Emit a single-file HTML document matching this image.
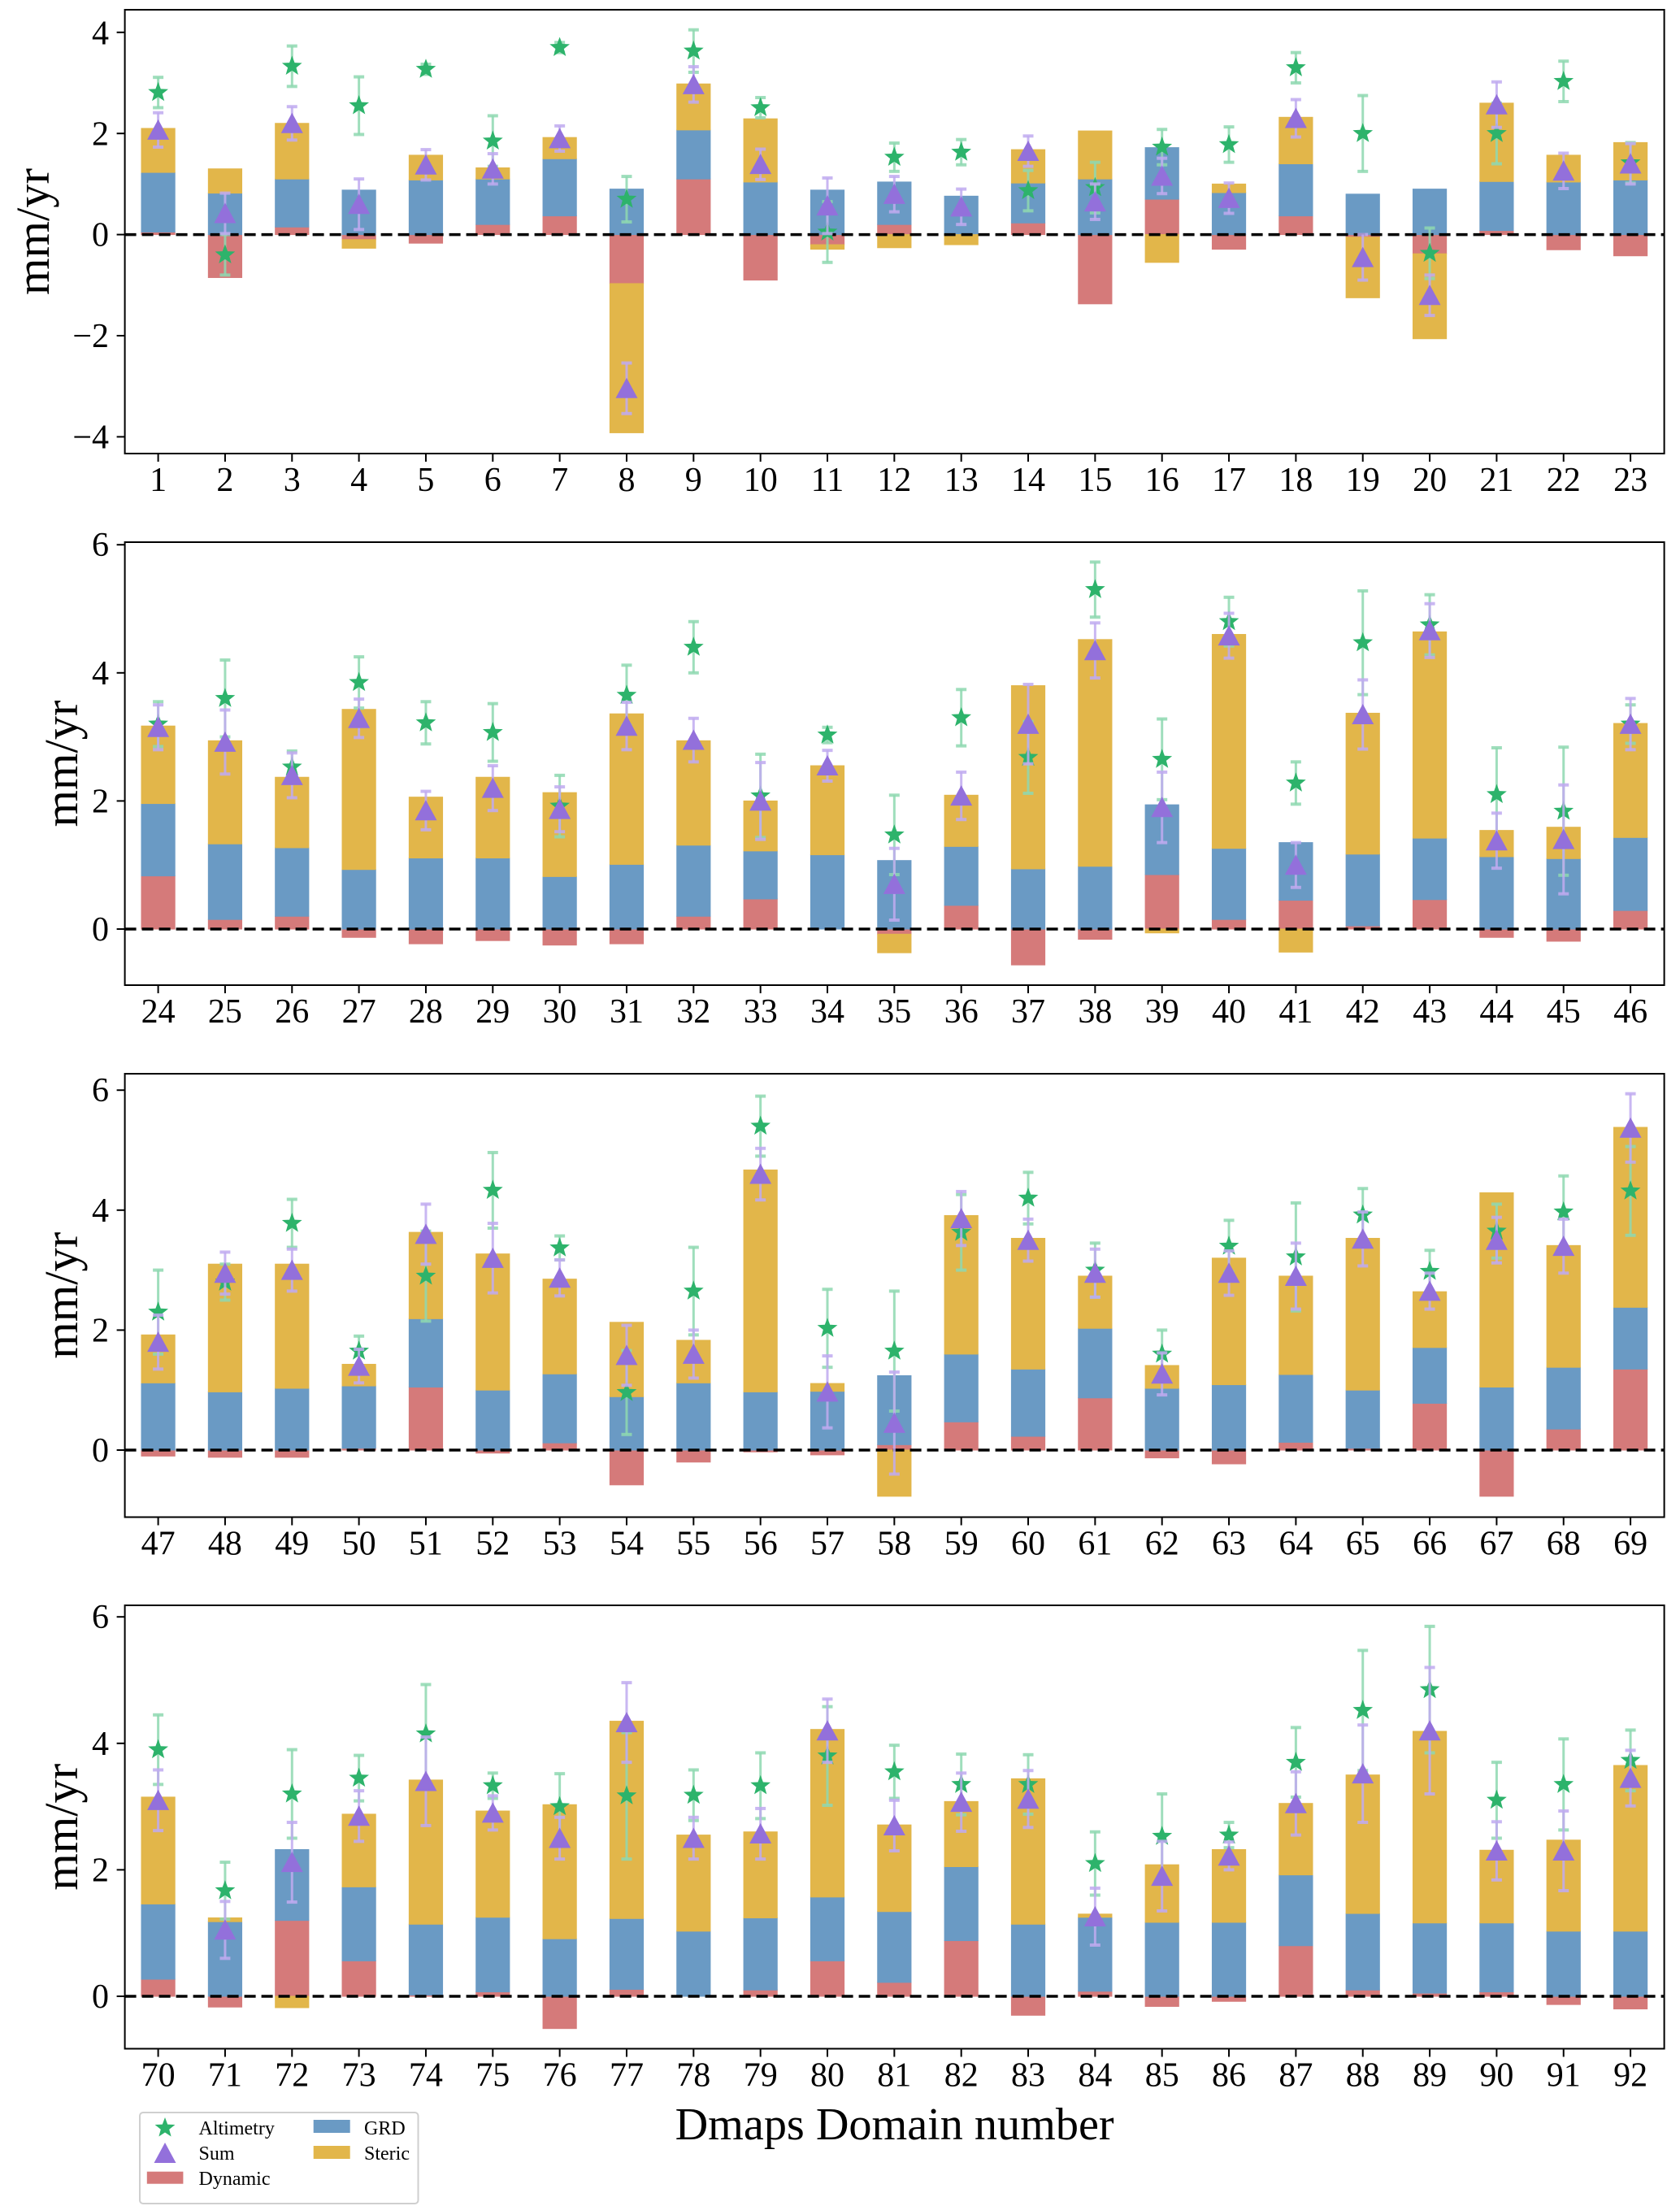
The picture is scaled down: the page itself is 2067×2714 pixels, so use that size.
<!DOCTYPE html>
<html><head><meta charset="utf-8"><style>
html,body{margin:0;padding:0;background:#fff;}
svg{display:block;}
text{font-family:"Liberation Serif","DejaVu Serif",serif;fill:#000;}
.tk{font-size:42px;}
.yl{font-size:58px;}
.lg{font-size:24px;}
</style></head><body>
<svg id="s" xmlns="http://www.w3.org/2000/svg" width="2067" height="2714" viewBox="0 0 2067 2714">
<rect width="2067" height="2714" fill="#fff"/>
<g id="data"></g>
<g id="frames"></g>
<!-- x tick labels -->
<g class="tk" text-anchor="middle">
<text x="194.6" y="604">1</text><text x="276.9" y="604">2</text><text x="359.3" y="604">3</text><text x="441.6" y="604">4</text><text x="523.9" y="604">5</text><text x="606.3" y="604">6</text><text x="688.6" y="604">7</text><text x="771.0" y="604">8</text><text x="853.3" y="604">9</text><text x="935.7" y="604">10</text><text x="1018.0" y="604">11</text><text x="1100.3" y="604">12</text><text x="1182.7" y="604">13</text><text x="1265.0" y="604">14</text><text x="1347.4" y="604">15</text><text x="1429.7" y="604">16</text><text x="1512.0" y="604">17</text><text x="1594.4" y="604">18</text><text x="1676.7" y="604">19</text><text x="1759.1" y="604">20</text><text x="1841.4" y="604">21</text><text x="1923.7" y="604">22</text><text x="2006.1" y="604">23</text>
<text x="194.6" y="1258">24</text><text x="276.9" y="1258">25</text><text x="359.3" y="1258">26</text><text x="441.6" y="1258">27</text><text x="523.9" y="1258">28</text><text x="606.3" y="1258">29</text><text x="688.6" y="1258">30</text><text x="771.0" y="1258">31</text><text x="853.3" y="1258">32</text><text x="935.7" y="1258">33</text><text x="1018.0" y="1258">34</text><text x="1100.3" y="1258">35</text><text x="1182.7" y="1258">36</text><text x="1265.0" y="1258">37</text><text x="1347.4" y="1258">38</text><text x="1429.7" y="1258">39</text><text x="1512.0" y="1258">40</text><text x="1594.4" y="1258">41</text><text x="1676.7" y="1258">42</text><text x="1759.1" y="1258">43</text><text x="1841.4" y="1258">44</text><text x="1923.7" y="1258">45</text><text x="2006.1" y="1258">46</text>
<text x="194.6" y="1912.5">47</text><text x="276.9" y="1912.5">48</text><text x="359.3" y="1912.5">49</text><text x="441.6" y="1912.5">50</text><text x="523.9" y="1912.5">51</text><text x="606.3" y="1912.5">52</text><text x="688.6" y="1912.5">53</text><text x="771.0" y="1912.5">54</text><text x="853.3" y="1912.5">55</text><text x="935.7" y="1912.5">56</text><text x="1018.0" y="1912.5">57</text><text x="1100.3" y="1912.5">58</text><text x="1182.7" y="1912.5">59</text><text x="1265.0" y="1912.5">60</text><text x="1347.4" y="1912.5">61</text><text x="1429.7" y="1912.5">62</text><text x="1512.0" y="1912.5">63</text><text x="1594.4" y="1912.5">64</text><text x="1676.7" y="1912.5">65</text><text x="1759.1" y="1912.5">66</text><text x="1841.4" y="1912.5">67</text><text x="1923.7" y="1912.5">68</text><text x="2006.1" y="1912.5">69</text>
<text x="194.6" y="2566.5">70</text><text x="276.9" y="2566.5">71</text><text x="359.3" y="2566.5">72</text><text x="441.6" y="2566.5">73</text><text x="523.9" y="2566.5">74</text><text x="606.3" y="2566.5">75</text><text x="688.6" y="2566.5">76</text><text x="771.0" y="2566.5">77</text><text x="853.3" y="2566.5">78</text><text x="935.7" y="2566.5">79</text><text x="1018.0" y="2566.5">80</text><text x="1100.3" y="2566.5">81</text><text x="1182.7" y="2566.5">82</text><text x="1265.0" y="2566.5">83</text><text x="1347.4" y="2566.5">84</text><text x="1429.7" y="2566.5">85</text><text x="1512.0" y="2566.5">86</text><text x="1594.4" y="2566.5">87</text><text x="1676.7" y="2566.5">88</text><text x="1759.1" y="2566.5">89</text><text x="1841.4" y="2566.5">90</text><text x="1923.7" y="2566.5">91</text><text x="2006.1" y="2566.5">92</text>
</g>
<!-- y tick labels -->
<g class="tk" text-anchor="end">
<text x="134" y="54.3">4</text><text x="134" y="178.7">2</text><text x="134" y="302.6">0</text><text x="134" y="427">−2</text><text x="134" y="551.4">−4</text>
<text x="134" y="1157">0</text><text x="134" y="999.4">2</text><text x="134" y="841.8">4</text><text x="134" y="684.2">6</text>
<text x="134" y="1798">0</text><text x="134" y="1650.4">2</text><text x="134" y="1502.8">4</text><text x="134" y="1355.2">6</text>
<text x="134" y="2470">0</text><text x="134" y="2314.4">2</text><text x="134" y="2158.8">4</text><text x="134" y="2003.2">6</text>
</g>
<g class="yl" text-anchor="middle">
<text transform="translate(60,285) rotate(-90)" textLength="156" lengthAdjust="spacingAndGlyphs">mm/yr</text>
<text transform="translate(95,939.5) rotate(-90)" textLength="156" lengthAdjust="spacingAndGlyphs">mm/yr</text>
<text transform="translate(95,1593.7) rotate(-90)" textLength="156" lengthAdjust="spacingAndGlyphs">mm/yr</text>
<text transform="translate(95,2247.7) rotate(-90)" textLength="156" lengthAdjust="spacingAndGlyphs">mm/yr</text>
</g>
<text x="1100.6" y="2632" text-anchor="middle" style="font-size:56px" textLength="540" lengthAdjust="spacingAndGlyphs">Dmaps Domain number</text>
<!-- legend -->
<rect x="172" y="2599" width="342.5" height="112" rx="4" fill="#fff" stroke="#cfcfcf" stroke-width="2"/>
<g id="legmk"></g>
<rect x="180.8" y="2671.7" width="44.6" height="15" fill="#d57a7a"/>
<rect x="385.7" y="2608" width="45" height="16" fill="#6a9ac4"/>
<rect x="385.7" y="2640" width="45" height="16" fill="#e2b64a"/>
<g class="lg">
<text x="244.5" y="2626">Altimetry</text>
<text x="244.5" y="2657">Sum</text>
<text x="244.5" y="2688">Dynamic</text>
<text x="448" y="2626">GRD</text>
<text x="448" y="2657">Steric</text>
</g>
</svg>
<script>
(function(){
var NS="http://www.w3.org/2000/svg";
var data=document.getElementById("data"),fr=document.getElementById("frames"),lm=document.getElementById("legmk");
function el(p,t,a){var e=document.createElementNS(NS,t);for(var k in a)e.setAttribute(k,a[k]);p.appendChild(e);return e;}
var RED="#d57a7a",BLUE="#6a9ac4",YEL="#e2b64a",GRN="#2db36b",PUR="#9370db",GERR="#8ed8b0",PERR="#bfaaf0";
function xs(i){return 194.6+i*82.34;}
function star(cx,cy,R){var r=R*0.42,p=[];for(var k=0;k<10;k++){var a=-Math.PI/2+k*Math.PI/5,rr=k%2?r:R;p.push((cx+rr*Math.cos(a)).toFixed(1)+","+(cy+rr*Math.sin(a)).toFixed(1));}return p.join(" ");}
function tri(cx,cy){return cx+","+(cy-13)+" "+(cx-13.5)+","+(cy+12)+" "+(cx+13.5)+","+(cy+12);}
var P=[
{top:12,bot:558,z:288.6,u:62.2,ticks:[4,2,0,-2,-4],
b:[[0.05,1.23,2.10],[-0.85,0.82,1.3],[0.15,1.1,2.2],[-0.1,0.88,-0.27],[-0.17,1.08,1.57],[0.2,1.1,1.32],[0.37,1.5,1.92],[-0.97,0.9,-3.92],[1.1,2.07,2.98],[-0.9,1.04,2.29],[-0.2,0.88,-0.29],[0.2,1.04,-0.26],[0,0.76,-0.2],[0.23,1.02,1.68],[-1.37,1.1,2.05],[0.7,1.72,-0.55],[-0.29,0.83,1.0],[0.37,1.4,2.32],[-0.05,0.8,-1.25],[-0.38,0.9,-2.06],[0.08,1.05,2.6],[-0.3,1.04,1.57],[-0.42,1.08,1.82]],
t:[[2.07,.34],[0.42,.4],[2.2,.33],[0.6,.5],[1.38,.3],[1.3,.3],[1.9,.25],[-3.04,.5],[2.97,.35],[1.39,.3],[0.57,.55],[0.8,.35],[0.55,.35],[1.65,.3],[0.65,.35],[1.16,.35],[0.72,.3],[2.3,.37],[-0.45,.45],[-1.2,.4],[2.57,.45],[1.26,.35],[1.4,.4]],
s:[[2.81,.3],[-0.4,.4],[3.33,.4],[2.55,.57],[3.27,.1],[1.85,.5],[3.7,.1],[0.7,.45],[3.63,.42],[2.51,.2],[0.05,.6],[1.53,.28],[1.63,.25],[0.87,.4],[0.93,.5],[1.73,.35],[1.78,.35],[3.3,.3],[2.0,.75],[-0.37,.5],[2.0,.6],[3.03,.4],[1.42,.4]]},
{top:667,bot:1212,z:1143,u:78.8,ticks:[0,2,4,6],
b:[[0.83,1.96,3.17],[0.15,1.33,2.94],[0.2,1.27,2.37],[-0.13,0.93,3.43],[-0.23,1.11,2.06],[-0.18,1.11,2.37],[-0.25,0.82,2.13],[-0.23,1.01,3.36],[0.2,1.31,2.94],[0.47,1.22,2.0],[0,1.16,2.55],[-0.08,1.07,-0.37],[0.37,1.29,2.09],[-0.56,0.94,3.8],[-0.16,0.98,4.52],[0.85,1.94,-0.06],[0.15,1.26,4.6],[0.45,1.35,-0.36],[0.05,1.17,3.37],[0.46,1.42,4.64],[-0.13,1.13,1.54],[-0.19,1.1,1.59],[0.29,1.43,3.21]],
t:[[3.15,.35],[2.92,.5],[2.4,.35],[3.29,.3],[1.85,.3],[2.2,.35],[1.87,.35],[3.17,.37],[2.95,.34],[2.0,.6],[2.55,.24],[0.7,.56],[2.08,.37],[3.2,.62],[4.35,.43],[1.9,.55],[4.58,.35],[1.0,.35],[3.35,.54],[4.66,.42],[1.38,.43],[1.4,.85],[3.2,.4]],
s:[[3.2,.35],[3.6,.6],[2.53,.25],[3.85,.4],[3.22,.33],[3.07,.45],[1.92,.48],[3.65,.47],[4.4,.4],[2.08,.65],[3.03,.12],[1.47,.62],[3.3,.44],[2.68,.56],[5.3,.43],[2.65,.63],[4.8,.38],[2.28,.33],[4.47,.81],[4.75,.47],[2.1,.73],[1.84,1.0],[3.2,.3]]},
{top:1321,bot:1866.5,z:1784,u:73.8,ticks:[0,2,4,6],
b:[[-0.1,1.12,1.92],[-0.12,0.97,3.1],[-0.12,1.03,3.1],[0.03,1.07,1.43],[1.05,2.19,3.63],[-0.05,1.0,3.27],[0.12,1.27,2.85],[-0.58,0.89,2.13],[-0.2,1.12,1.83],[-0.03,0.97,4.67],[-0.08,0.98,1.11],[0.09,1.24,-0.77],[0.47,1.6,3.91],[0.23,1.35,3.53],[0.87,2.03,2.9],[-0.13,1.03,1.41],[-0.23,1.09,3.2],[0.13,1.26,2.9],[0.03,1.0,3.53],[0.78,1.71,2.64],[-0.77,1.05,4.29],[0.35,1.38,3.41],[1.35,2.38,5.38]],
t:[[1.8,.45],[2.95,.35],[3.0,.35],[1.4,.28],[3.6,.5],[3.2,.58],[2.87,.3],[1.58,.5],[1.6,.4],[4.6,.43],[0.97,.6],[0.45,.85],[3.86,.45],[3.5,.35],[2.95,.4],[1.27,.35],[2.95,.37],[2.9,.55],[3.52,.45],[2.65,.3],[3.5,.38],[3.4,.45],[5.37,.57]],
s:[[2.3,.7],[2.8,.3],[3.78,.4],[1.65,.25],[2.9,.75],[4.33,.63],[3.37,.2],[0.96,.7],[2.65,.73],[5.4,.5],[2.03,.65],[1.65,1.0],[3.63,.63],[4.2,.43],[3.0,.45],[1.6,.4],[3.4,.43],[3.22,.9],[3.92,.44],[2.98,.35],[3.65,.45],[3.97,.6],[4.32,.74]]},
{top:1975,bot:2520.5,z:2456,u:77.8,ticks:[0,2,4,6],
b:[[0.27,1.46,3.15],[-0.17,1.18,1.24],[1.2,2.32,-0.18],[0.56,1.73,2.88],[0.02,1.14,3.42],[0.07,1.25,2.93],[-0.51,0.91,3.03],[0.11,1.23,4.35],[0,1.03,2.55],[0.1,1.24,2.6],[0.56,1.57,4.22],[0.22,1.34,2.71],[0.88,2.05,3.08],[-0.3,1.14,3.44],[0.08,1.25,1.3],[-0.16,1.17,2.08],[-0.08,1.17,2.32],[0.8,1.92,3.05],[0.1,1.31,3.5],[0.05,1.16,4.19],[0.07,1.16,2.31],[-0.13,1.03,2.47],[-0.2,1.03,3.65]],
t:[[3.1,.48],[1.05,.45],[2.12,.63],[2.85,.4],[3.4,.7],[2.9,.27],[2.5,.33],[4.33,.63],[2.5,.33],[2.57,.4],[4.2,.5],[2.7,.4],[3.07,.46],[3.12,.45],[1.26,.45],[1.9,.55],[2.22,.22],[3.05,.5],[3.52,.77],[4.2,1.0],[2.3,.46],[2.3,.63],[3.45,.44]],
s:[[3.9,.55],[1.67,.45],[3.2,.7],[3.45,.36],[4.15,.78],[3.33,.2],[3.0,.52],[3.17,1.0],[3.18,.4],[3.33,.52],[3.8,.78],[3.55,.42],[3.35,.48],[3.35,.47],[2.1,.5],[2.53,.67],[2.55,.2],[3.7,.55],[4.52,.95],[4.85,1.0],[3.1,.6],[3.35,.72],[3.73,.48]]}
];
var L=153.6,R=2047.6,BW=41.2;
P.forEach(function(p){
 function Y(v){return p.z-v*p.u;}
 function rect(a,b,c){var y1=Y(a),y2=Y(b);if(Math.abs(y1-y2)<0.1)return;el(data,"rect",{x:0,y:Math.min(y1,y2),width:BW,height:Math.abs(y1-y2),fill:c}).__x=1;}
 for(var i=0;i<23;i++){
  var cx=xs(i),x0=cx-BW/2,d=p.b[i][0],g=p.b[i][1],s=p.b[i][2];
  var rs=[];
  rs.push([0,d,RED]);
  var gb=Math.max(d,0);rs.push([gb,g,BLUE]);
  if(s>g)rs.push([g,s,YEL]);else rs.push([Math.min(d,0),s,YEL]);
  rs.forEach(function(r){var y1=Y(r[0]),y2=Y(r[1]);if(Math.abs(y1-y2)<0.1)return;el(data,"rect",{x:x0,y:Math.min(y1,y2),width:BW,height:Math.abs(y1-y2),fill:r[2],stroke:r[2],"stroke-width":1});});
 }
 // zero dashed line
 el(data,"line",{x1:L,x2:R,y1:p.z,y2:p.z,stroke:"#000","stroke-width":3.5,"stroke-dasharray":"14,7"});
 function errbar(cx,v,e,c){var y1=Y(v+e),y2=Y(v-e);
  el(data,"line",{x1:cx,x2:cx,y1:y1,y2:y2,stroke:c,"stroke-width":3,"stroke-opacity":0.85});
  el(data,"line",{x1:cx-6.5,x2:cx+6.5,y1:y1,y2:y1,stroke:c,"stroke-width":4,"stroke-opacity":0.85});
  el(data,"line",{x1:cx-6.5,x2:cx+6.5,y1:y2,y2:y2,stroke:c,"stroke-width":4,"stroke-opacity":0.85});}
 for(var i=0;i<23;i++){var cx=xs(i);errbar(cx,p.s[i][0],p.s[i][1],GERR);el(data,"polygon",{points:star(cx,Y(p.s[i][0]),13),fill:GRN});}
 for(var i=0;i<23;i++){var cx=xs(i);errbar(cx,p.t[i][0],p.t[i][1],PERR);el(data,"polygon",{points:tri(cx,Y(p.t[i][0])),fill:PUR});}
 // frame
 el(fr,"rect",{x:L,y:p.top,width:R-L,height:p.bot-p.top,fill:"none",stroke:"#000","stroke-width":2});
 for(var i=0;i<23;i++){var cx=xs(i);el(fr,"line",{x1:cx,x2:cx,y1:p.bot,y2:p.bot+10,stroke:"#000","stroke-width":2});}
 p.ticks.forEach(function(t){var y=Y(t);el(fr,"line",{x1:L-10,x2:L,y1:y,y2:y,stroke:"#000","stroke-width":2});});
});
el(lm,"polygon",{points:star(203,2618,13),fill:GRN});
el(lm,"polygon",{points:tri(203,2649),fill:PUR});
})();
</script>
</body></html>
